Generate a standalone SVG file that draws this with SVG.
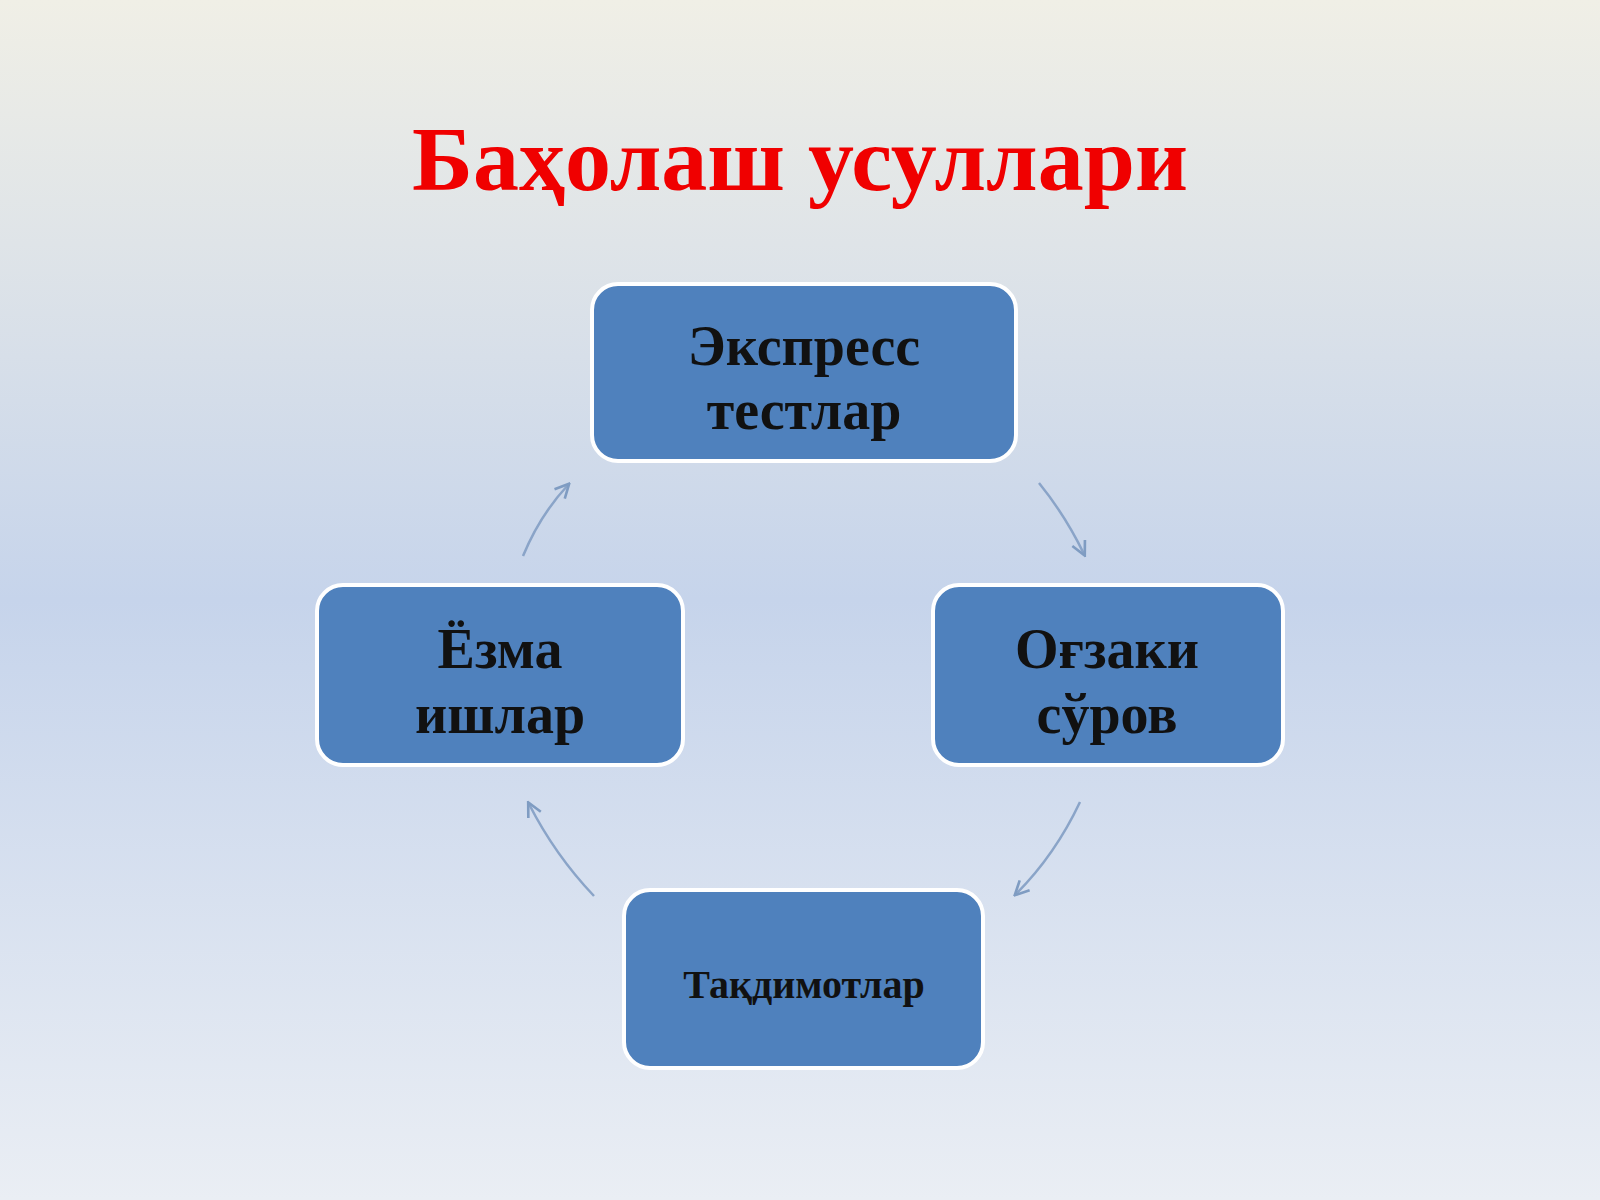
<svg xmlns="http://www.w3.org/2000/svg" width="1600" height="1200" viewBox="0 0 1600 1200">
<defs>
<linearGradient id="bg" x1="0" y1="0" x2="0" y2="1">
<stop offset="0" stop-color="#f0efe6"/>
<stop offset="0.5" stop-color="#c6d4eb"/>
<stop offset="1" stop-color="#eaeef4"/>
</linearGradient>
<marker id="ah" viewBox="0 0 10 10" refX="8" refY="5" markerWidth="7" markerHeight="7" orient="auto">
<path d="M1,1 L9,5 L1,9" fill="none" stroke="#7f9cc2" stroke-width="1.5"/>
</marker>
<style>
.box{fill:#4f81bd;stroke:#fff;stroke-width:4}
.t{font-family:"Liberation Serif",serif;font-weight:bold;fill:#111;text-anchor:middle}
.c{fill:none;stroke:#8aa4c8;stroke-width:2.5;marker-end:url(#ah)}
</style>
</defs>
<rect width="1600" height="1200" fill="url(#bg)"/>
<text x="800" y="190" font-family="Liberation Serif,serif" font-weight="bold" font-size="92" fill="#f00000" text-anchor="middle">Баҳолаш усуллари</text>
<g id="connectors">
<path class="c" d="M523,556 Q540,515 568,485"/>
<path class="c" d="M1039,483 Q1065,515 1084,554"/>
<path class="c" d="M1080,802 Q1055,855 1016,894"/>
<path class="c" d="M594,896 Q555,855 529,804"/>
</g>
<g id="n1"><rect class="box" x="592" y="284" width="424" height="177" rx="26"/>
<text class="t" x="804" y="365" font-size="56">Экспресс</text><text class="t" x="804" y="429" font-size="56">тестлар</text></g>
<g id="n2"><rect class="box" x="933" y="585" width="350" height="180" rx="26"/>
<text class="t" x="1107" y="668" font-size="56">Оғзаки</text><text class="t" x="1107" y="733" font-size="56">сўров</text></g>
<g id="n3"><rect class="box" x="624" y="890" width="359" height="178" rx="26"/>
<text class="t" x="804" y="998" font-size="40">Тақдимотлар</text></g>
<g id="n4"><rect class="box" x="317" y="585" width="366" height="180" rx="26"/>
<text class="t" x="500" y="668" font-size="56">Ёзма</text><text class="t" x="500" y="733" font-size="56">ишлар</text></g>
</svg>
